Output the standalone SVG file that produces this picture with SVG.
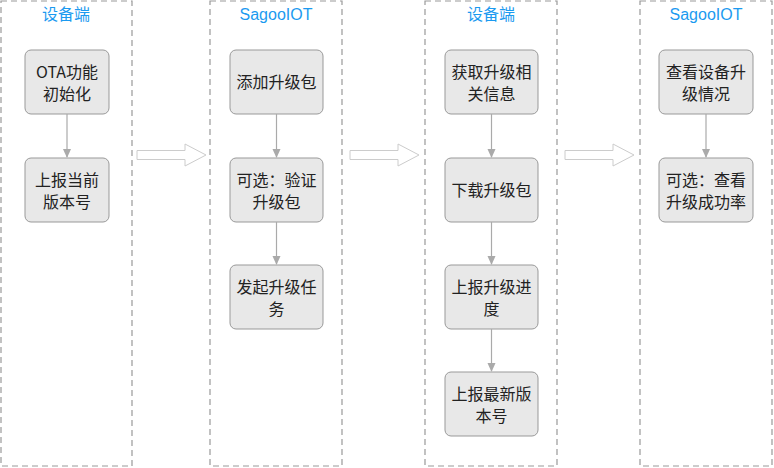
<svg xmlns="http://www.w3.org/2000/svg" width="774" height="468" viewBox="0 0 774 468">
<style>
.lane{fill:none;stroke:#999;stroke-width:1.2;stroke-dasharray:6 4}
.title{font-family:"Liberation Sans","Noto Sans CJK SC",sans-serif;font-size:16px;fill:#1b9af0;text-anchor:middle}
.box{fill:#e8e8e8;stroke:#999;stroke-width:1}
.t{font-family:"Noto Sans CJK SC","Liberation Sans",sans-serif;font-size:16px;fill:#222;text-anchor:middle}
.con{stroke:#aaa;stroke-width:1.2;fill:none}
.big{fill:#fff;stroke:#ccc;stroke-width:1}
</style>
<defs>
<marker id="ah" markerWidth="10" markerHeight="10" refX="8" refY="5" orient="auto" markerUnits="userSpaceOnUse">
<path d="M0,1 L9,5 L0,9 Z" fill="#aaa"/>
</marker>
</defs>
<g id="lanes">
<rect class="lane" x="1" y="1" width="131" height="465"/>
<rect class="lane" x="210" y="1" width="132" height="465"/>
<rect class="lane" x="425" y="1" width="132" height="465"/>
<rect class="lane" x="640" y="1" width="132" height="465"/>
<text class="title" x="66" y="20">设备端</text>
<text class="title" x="276" y="20">SagooIOT</text>
<text class="title" x="491" y="20">设备端</text>
<text class="title" x="706" y="20">SagooIOT</text>
</g>
<g id="bigarrows">
<path class="big" d="M137,150.5 H185 V144 L206,155 L185,166 V159.5 H137 Z"/>
<path class="big" d="M350,150.5 H398 V144 L419,155 L398,166 V159.5 H350 Z"/>
<path class="big" d="M565,150.5 H613 V144 L634,155 L613,166 V159.5 H565 Z"/>
</g>
<g id="n1"><rect class="box" x="25" y="50" width="84" height="64" rx="6"/><text class="t" x="67" y="78">OTA功能</text><text class="t" x="67" y="100">初始化</text></g>
<g id="n2"><rect class="box" x="25" y="158" width="84" height="64" rx="6"/><text class="t" x="67" y="186">上报当前</text><text class="t" x="67" y="208">版本号</text></g>
<g id="n3"><rect class="box" x="230" y="50" width="93" height="64" rx="6"/><text class="t" x="276.5" y="88">添加升级包</text></g>
<g id="n4"><rect class="box" x="230" y="158" width="93" height="64" rx="6"/><text class="t" x="276.5" y="186">可选：验证</text><text class="t" x="276.5" y="208">升级包</text></g>
<g id="n5"><rect class="box" x="230" y="265" width="93" height="64" rx="6"/><text class="t" x="276.5" y="293">发起升级任</text><text class="t" x="276.5" y="315">务</text></g>
<g id="n6"><rect class="box" x="445" y="50" width="93" height="64" rx="6"/><text class="t" x="491.5" y="78">获取升级相</text><text class="t" x="491.5" y="100">关信息</text></g>
<g id="n7"><rect class="box" x="445" y="158" width="93" height="64" rx="6"/><text class="t" x="491.5" y="196">下载升级包</text></g>
<g id="n8"><rect class="box" x="445" y="265" width="93" height="64" rx="6"/><text class="t" x="491.5" y="293">上报升级进</text><text class="t" x="491.5" y="315">度</text></g>
<g id="n9"><rect class="box" x="445" y="372" width="93" height="64" rx="6"/><text class="t" x="491.5" y="400">上报最新版</text><text class="t" x="491.5" y="422">本号</text></g>
<g id="n10"><rect class="box" x="659" y="50" width="94" height="64" rx="6"/><text class="t" x="706" y="78">查看设备升</text><text class="t" x="706" y="100">级情况</text></g>
<g id="n11"><rect class="box" x="659" y="158" width="94" height="64" rx="6"/><text class="t" x="706" y="186">可选：查看</text><text class="t" x="706" y="208">升级成功率</text></g>
<g id="connectors">
<line class="con" x1="67" y1="114" x2="67" y2="157" marker-end="url(#ah)"/>
<line class="con" x1="276.5" y1="114" x2="276.5" y2="157" marker-end="url(#ah)"/>
<line class="con" x1="276.5" y1="222" x2="276.5" y2="264" marker-end="url(#ah)"/>
<line class="con" x1="491.5" y1="114" x2="491.5" y2="157" marker-end="url(#ah)"/>
<line class="con" x1="491.5" y1="222" x2="491.5" y2="264" marker-end="url(#ah)"/>
<line class="con" x1="491.5" y1="329" x2="491.5" y2="371" marker-end="url(#ah)"/>
<line class="con" x1="706" y1="114" x2="706" y2="157" marker-end="url(#ah)"/>
</g>
</svg>
